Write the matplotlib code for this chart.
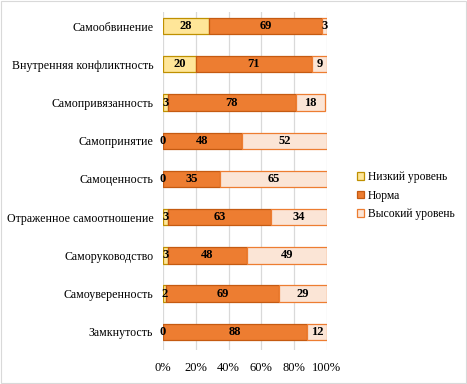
import numpy as np
import matplotlib.pyplot as plt
from matplotlib.patches import Rectangle

plt.rcParams['font.family'] = ['Liberation Serif', 'DejaVu Serif']

categories = ['Самообвинение', 'Внутренняя конфликтность', 'Самопривязанность',
              'Самопринятие', 'Самоценность', 'Отраженное самоотношение',
              'Саморуководство', 'Самоуверенность', 'Замкнутость']
low = [28, 20, 3, 0, 0, 3, 3, 2, 0]
norm = [69, 71, 78, 48, 35, 63, 48, 69, 88]
high = [3, 9, 18, 52, 65, 34, 49, 29, 12]
series_names = ['Низкий уровень', 'Норма', 'Высокий уровень']

faces = ['#FFE699', '#ED7D31', '#FBE5D6']
edges = ['#BF9000', '#C55A11', '#ED7D31']

fig = plt.figure(figsize=(4.67, 3.84), dpi=100)
ax = fig.add_axes([0.349, 0.089, 0.351, 0.880])

y = np.arange(len(categories))
left = np.zeros(len(categories))
for vals, name, fc, ec in zip([low, norm, high], series_names, faces, edges):
    vals = np.array(vals, dtype=float)
    ax.barh(y, vals, left=left, height=0.43, color=fc, edgecolor=ec,
            linewidth=0.9, label=name, zorder=3)
    for yi, l, v in zip(y, left, vals):
        ax.text(l + v / 2, yi, f'{int(v)}', ha='center', va='center',
                fontsize=9, fontweight='bold', color='black', zorder=4)
    left += vals

ax.set_xlim(0, 100)
ax.set_ylim(8.47, -0.37)
ax.set_xticks(np.arange(0, 101, 20))
ax.set_xticklabels([f'{t}%' for t in range(0, 101, 20)], fontsize=9)
ax.set_yticks(y)
ax.set_yticklabels(categories, fontsize=8.6)
ax.tick_params(length=0)
ax.tick_params(axis='y', pad=7)
ax.tick_params(axis='x', pad=9)
ax.grid(axis='x', color='#D9D9D9', linewidth=0.9, zorder=0)
for s in ax.spines.values():
    s.set_visible(False)

ax.legend(loc='center left', bbox_to_anchor=(1.12, 0.456), frameon=False,
          fontsize=8.4, handlelength=0.6, handleheight=0.6, handletextpad=0.35,
          labelspacing=0.55)

fig.patches.append(Rectangle((0.002, 0.003), 0.996, 0.994, transform=fig.transFigure,
                             fill=False, edgecolor='#D9D9D9', linewidth=0.8))

fig.savefig('out.png', dpi=100)
